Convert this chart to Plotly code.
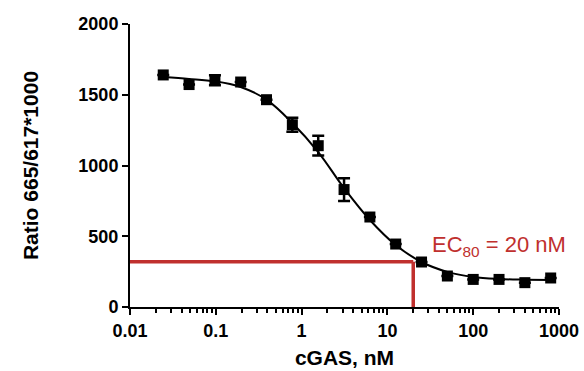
import plotly.graph_objects as go

# Data
conc_nM = [0.0244, 0.0488, 0.0977, 0.195, 0.39, 0.78, 1.5625, 3.125, 6.25, 12.5, 25, 50, 100, 200, 400, 800]
ratio = [1640, 1572, 1603, 1590, 1465, 1288, 1140, 830, 636, 445, 318, 219, 195, 195, 172, 205]
ratio_err = [0, 0, 35, 0, 0, 50, 70, 80, 0, 0, 0, 0, 0, 0, 0, 0]

# Fitted curve
curve_x = [0.0244, 0.0488, 0.0977, 0.195, 0.39, 0.78, 1.5625, 3.125, 6.25, 12.5, 25, 50, 100, 200, 400, 800]
curve_y = [1625, 1612, 1595, 1555, 1465, 1300, 1095, 840, 615, 438, 318, 248, 212, 198, 193, 190]

ec80_x = 20
ec80_y = 320

x_tickvals = [0.01, 0.1, 1, 10, 100, 1000]
x_ticktext = ["0.01", "0.1", "1", "10", "100", "1000"]
y_tickvals = [0, 500, 1000, 1500, 2000]

red = "#c0302e"
font_family = "Liberation Sans, Arial, sans-serif"

fig = go.Figure()

fig.add_trace(go.Scatter(x=[0.01, ec80_x], y=[ec80_y, ec80_y], mode="lines",
                         line=dict(color=red, width=3.5), showlegend=False, hoverinfo="skip"))
fig.add_trace(go.Scatter(x=[ec80_x, ec80_x], y=[0, ec80_y], mode="lines",
                         line=dict(color=red, width=3.5), showlegend=False, hoverinfo="skip"))

fig.add_trace(go.Scatter(x=curve_x, y=curve_y, mode="lines",
                         line=dict(color="black", width=2, shape="spline", smoothing=1.0),
                         showlegend=False))

fig.add_trace(go.Scatter(x=conc_nM, y=ratio, mode="markers",
                         marker=dict(symbol="square", size=11, color="black"),
                         error_y=dict(type="data", array=ratio_err, visible=True,
                                      color="black", thickness=2.5, width=6),
                         showlegend=False))

fig.add_annotation(x=1.5, y=430, xref="x", yref="y", xanchor="left", yanchor="middle",
                   text="EC<sub>80</sub> = 20 nM", showarrow=False,
                   font=dict(family=font_family, size=22, color=red))

axis_common = dict(showline=True, linecolor="black", linewidth=2, ticks="outside",
                   tickwidth=2, tickcolor="black", ticklen=6, showgrid=False, zeroline=False,
                   tickfont=dict(family=font_family, size=18, color="black", weight="bold"),
                   title_font=dict(family=font_family, size=21, color="black", weight="bold"),
                   mirror=False)

fig.update_xaxes(type="log", range=[-2, 3], tickvals=x_tickvals, ticktext=x_ticktext,
                 title_text="cGAS, nM", title_standoff=11,
                 minor=dict(ticks="outside", ticklen=4, tickwidth=1.5, tickcolor="black", dtick="D1", showgrid=False),
                 **axis_common)
fig.update_yaxes(range=[0, 2000], tickvals=y_tickvals, title_text="Ratio 665/617*1000",
                 title_standoff=34, **axis_common)

fig.update_layout(width=584, height=371, margin=dict(l=130, r=25, t=24, b=64, autoexpand=False),
                  plot_bgcolor="white", paper_bgcolor="white", showlegend=False)

fig.write_html("out.html", config={"displayModeBar": False},
               post_script="document.body.style.margin='0';")
